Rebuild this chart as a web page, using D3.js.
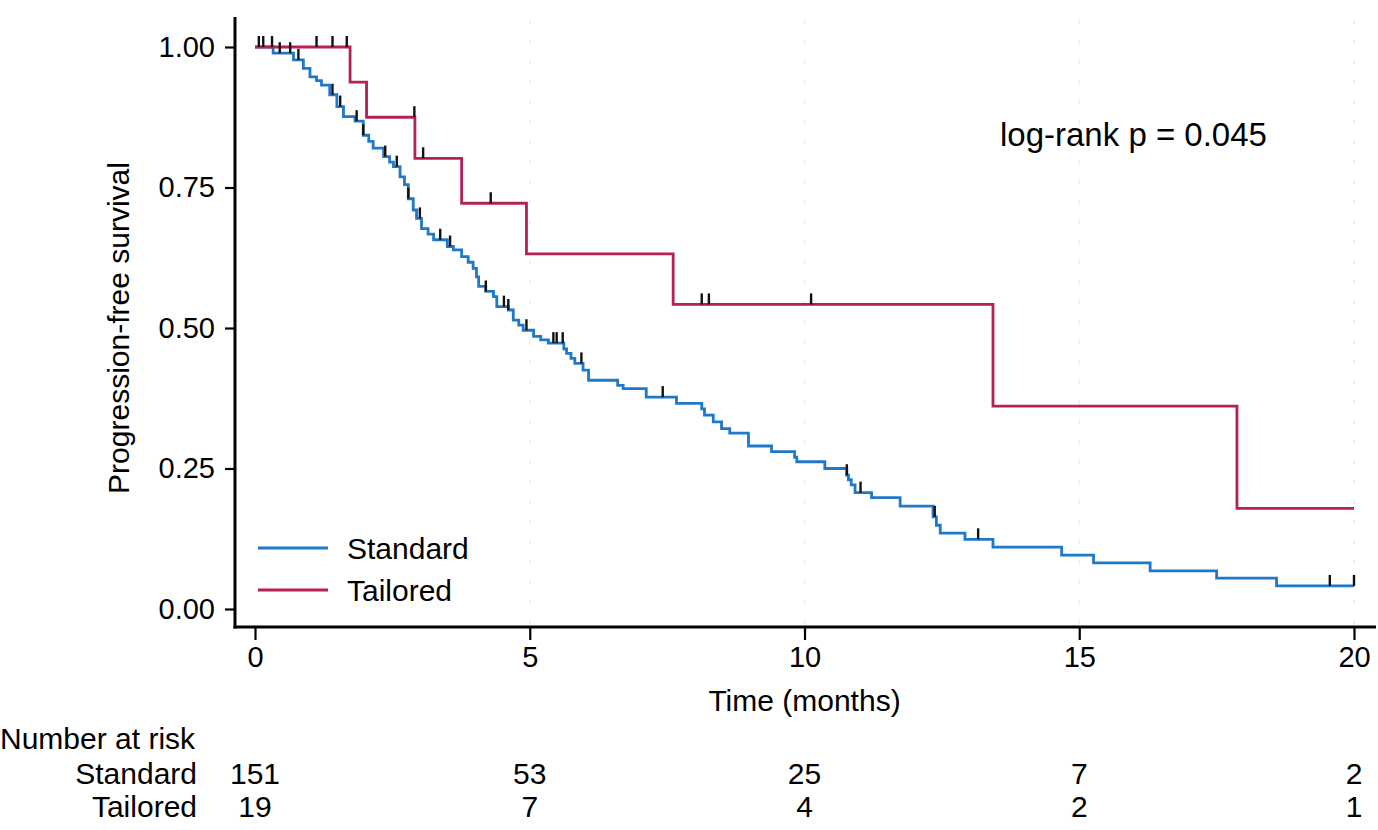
<!DOCTYPE html>
<html lang="en">
<head>
<meta charset="UTF-8">
<script src="https://d3js.org/d3.v7.min.js"></script>
<title>Progression-free survival</title>
<style>
    body { margin: 0; background: #fff; }
    svg text { font-family: "Liberation Sans", Arial, sans-serif; fill: #000; }
</style>
</head>
<body>
<div id="container"></div>
<script>
    // 生存曲线数据
    var stdTime = [0, 0.33, 0.70, 0.88, 1.00, 1.12, 1.21, 1.36, 1.49, 1.61, 1.82, 1.97, 2.07, 2.15, 2.34, 2.45, 2.52, 2.64, 2.72, 2.79, 2.88, 2.94, 3.03, 3.15, 3.25, 3.50, 3.61, 3.76, 3.88, 3.97, 4.03, 4.07, 4.20, 4.34, 4.40, 4.61, 4.70, 4.80, 4.88, 5.07, 5.20, 5.34, 5.62, 5.67, 5.75, 5.82, 5.97, 6.07, 6.60, 6.70, 7.12, 7.67, 8.13, 8.18, 8.34, 8.49, 8.64, 8.98, 9.40, 9.82, 9.86, 10.37, 10.77, 10.80, 10.85, 10.92, 11.22, 11.74, 12.34, 12.40, 12.47, 12.92, 13.43, 14.68, 15.26, 16.29, 17.50, 18.59];
    var stdSurv = [1.000, 0.989, 0.977, 0.962, 0.947, 0.940, 0.932, 0.915, 0.894, 0.876, 0.868, 0.843, 0.832, 0.820, 0.805, 0.795, 0.787, 0.769, 0.755, 0.730, 0.710, 0.695, 0.677, 0.667, 0.657, 0.645, 0.639, 0.627, 0.617, 0.606, 0.591, 0.574, 0.565, 0.556, 0.538, 0.532, 0.514, 0.505, 0.496, 0.485, 0.479, 0.473, 0.463, 0.455, 0.446, 0.437, 0.425, 0.407, 0.398, 0.392, 0.377, 0.366, 0.356, 0.345, 0.333, 0.321, 0.313, 0.290, 0.280, 0.270, 0.262, 0.250, 0.238, 0.230, 0.221, 0.207, 0.198, 0.183, 0.164, 0.149, 0.135, 0.124, 0.110, 0.096, 0.082, 0.068, 0.055, 0.041];
    var stdCensor = [0.45, 0.64, 0.79, 1.41, 1.55, 1.85, 1.97, 2.37, 2.58, 2.79, 3.00, 3.37, 3.55, 4.20, 4.53, 4.61, 4.94, 5.43, 5.49, 5.60, 5.94, 7.42, 10.77, 11.02, 12.37, 13.16, 19.56, 20.0];

    var tlrTime = [0, 1.73, 2.03, 2.91, 3.76, 4.94, 7.61, 13.43, 17.87];
    var tlrSurv = [1.000, 0.9375, 0.875, 0.802, 0.722, 0.632, 0.542, 0.361, 0.179];
    var tlrCensor = [0.07, 0.15, 0.31, 1.12, 1.41, 1.67, 2.90, 3.06, 4.29, 8.13, 8.26, 10.12];

    var endTime = 20;
    var xTicks = [0, 5, 10, 15, 20];
    var yTicks = [0, 0.25, 0.5, 0.75, 1];
    var groups = ["Standard", "Tailored"];
    var colors = ["#1f78c8", "#b3205a"];
    var riskStd = [151, 53, 25, 7, 2];
    var riskTlr = [19, 7, 4, 2, 1];
    var pText = "log-rank p = 0.045";

    var width = 1378, height = 830;
    var svg = d3.select("#container").append("svg").attr("width", width).attr("height", height);

    // 比例尺
    var x = d3.scaleLinear().domain([0, 20]).range([255, 1354]);
    var y = d3.scaleLinear().domain([0, 1]).range([609, 47]);

    var axisX = 235, axisY = 627;

    // 很淡的竖直网格线
    svg.append("g").selectAll("line").data(xTicks.slice(1)).enter().append("line")
        .attr("x1", d => x(d)).attr("x2", d => x(d))
        .attr("y1", 20).attr("y2", axisY - 2)
        .attr("stroke", "#ececec").attr("stroke-width", 1.5)
        .attr("stroke-dasharray", "4,16");

    // y轴
    var yaxis = d3.axisLeft(y).tickValues(yTicks).tickFormat(d3.format(".2f"))
        .tickSize(10).tickSizeOuter(0).tickPadding(10);
    var gy = svg.append("g").attr("transform", `translate(${axisX},0)`).call(yaxis);
    gy.select(".domain").remove();
    gy.selectAll(".tick line").attr("stroke", "#000").attr("stroke-width", 2.2);
    gy.selectAll(".tick text").style("font-size", "29px");

    // x轴
    var xaxis = d3.axisBottom(x).tickValues(xTicks).tickSize(13).tickSizeOuter(0).tickPadding(6);
    var gx = svg.append("g").attr("transform", `translate(0,${axisY})`).call(xaxis);
    gx.select(".domain").remove();
    gx.selectAll(".tick line").attr("stroke", "#000").attr("stroke-width", 2.2);
    gx.selectAll(".tick text").style("font-size", "29px");

    // 坐标轴框线
    svg.append("line").attr("x1", axisX).attr("x2", axisX).attr("y1", 17).attr("y2", axisY + 1.5)
        .attr("stroke", "#000").attr("stroke-width", 3);
    svg.append("line").attr("x1", axisX - 1.5).attr("x2", 1376).attr("y1", axisY).attr("y2", axisY)
        .attr("stroke", "#000").attr("stroke-width", 3);

    // 轴标题
    svg.append("text").attr("transform", `translate(129,${y(0.5)}) rotate(-90)`)
        .attr("text-anchor", "middle").style("font-size", "30px").text("Progression-free survival");
    svg.append("text").attr("x", x(10)).attr("y", 711)
        .attr("text-anchor", "middle").style("font-size", "30px").text("Time (months)");

    // 阶梯曲线
    var line = d3.line().curve(d3.curveStepAfter).x(d => x(d[0])).y(d => y(d[1]));
    function steps(times, surv) {
        var pts = times.map((t, i) => [t, surv[i]]);
        pts.push([endTime, surv[surv.length - 1]]);
        return pts;
    }
    function survAt(times, surv, t) {
        var v = surv[0];
        for (var i = 0; i < times.length; i++) { if (times[i] <= t) v = surv[i]; }
        return v;
    }

    var series = [
        { name: groups[0], time: stdTime, surv: stdSurv, censor: stdCensor, color: colors[0] },
        { name: groups[1], time: tlrTime, surv: tlrSurv, censor: tlrCensor, color: colors[1] }
    ];

    series.forEach(function (s) {
        svg.append("path").datum(steps(s.time, s.surv))
            .attr("fill", "none").attr("stroke", s.color).attr("stroke-width", 2.8)
            .attr("d", line);
    });

    // 删失标记
    series.forEach(function (s) {
        svg.append("g").selectAll("line").data(s.censor).enter().append("line")
            .attr("x1", d => x(d)).attr("x2", d => x(d))
            .attr("y1", d => y(survAt(s.time, s.surv, d)))
            .attr("y2", d => y(survAt(s.time, s.surv, d)) - 11)
            .attr("stroke", "#111").attr("stroke-width", 2.4);
    });

    // 图例
    var legend = svg.append("g");
    series.forEach(function (s, i) {
        var ly = 548 + i * 42;
        legend.append("line").attr("x1", 258).attr("x2", 328).attr("y1", ly).attr("y2", ly)
            .attr("stroke", s.color).attr("stroke-width", 2.8);
        legend.append("text").attr("x", 347).attr("y", ly).attr("dy", "0.36em")
            .style("font-size", "30px").text(s.name);
    });

    // 检验结果
    svg.append("text").attr("x", 1000).attr("y", 146).style("font-size", "33px").text(pText);

    // 风险人数表
    svg.append("text").attr("x", 0).attr("y", 749).style("font-size", "30px").text("Number at risk");
    [riskStd, riskTlr].forEach(function (row, i) {
        var by = 784 + i * 33;
        svg.append("text").attr("x", 197).attr("y", by).attr("text-anchor", "end")
            .style("font-size", "30px").text(groups[i]);
        svg.append("g").selectAll("text").data(row).enter().append("text")
            .attr("x", (d, j) => x(xTicks[j])).attr("y", by).attr("text-anchor", "middle")
            .style("font-size", "30px").text(d => d);
    });
</script>
</body>
</html>
